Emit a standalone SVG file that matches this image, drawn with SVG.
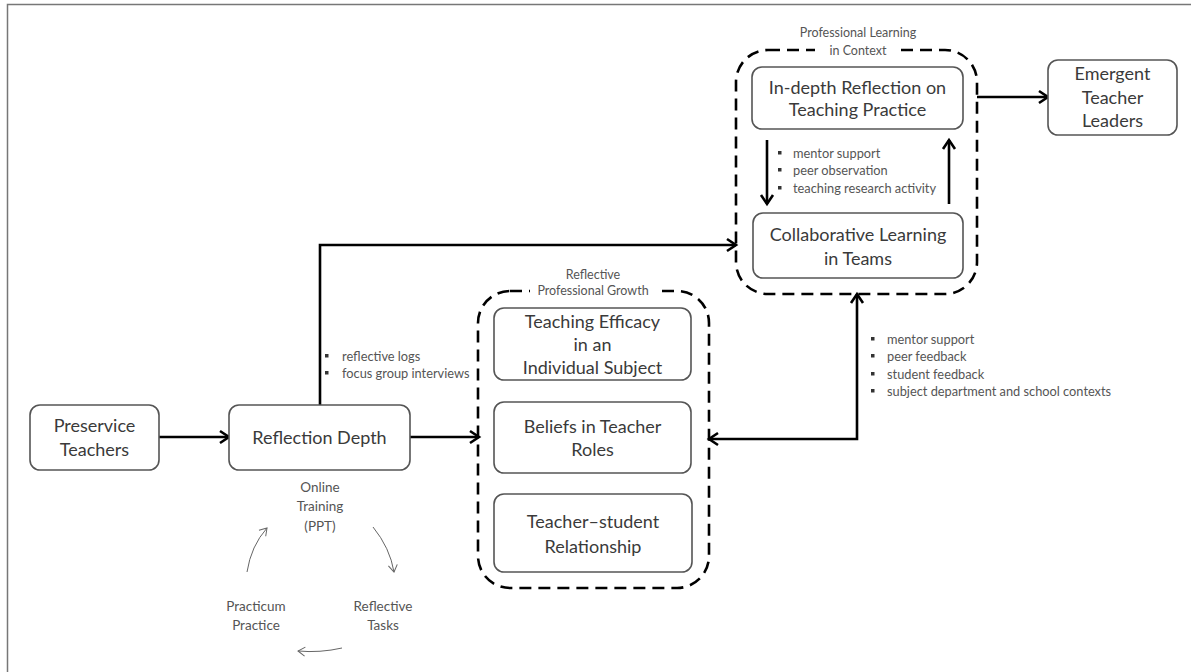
<svg xmlns="http://www.w3.org/2000/svg" width="1191" height="672" viewBox="0 0 1191 672">
<defs>
<marker id="ah" markerUnits="userSpaceOnUse" markerWidth="16" markerHeight="16" viewBox="0 0 16 16" refX="13" refY="8" orient="auto-start-reverse">
<path d="M4,2 L13,8 L4,14" fill="none" stroke="#000" stroke-width="2.6"/>
</marker>
<marker id="ahs" markerUnits="userSpaceOnUse" markerWidth="12" markerHeight="12" viewBox="0 0 12 12" refX="10" refY="6" orient="auto">
<path d="M3,1.5 L10,6 L3,10.5" fill="none" stroke="#666" stroke-width="1"/>
</marker>
<style>
.box{fill:#fff;stroke:#555;stroke-width:1.6}
.grp{fill:none;stroke:#000;stroke-width:2.6;stroke-dasharray:12 7}
.t{font-family:Lato,"Liberation Sans",sans-serif;font-size:18px;fill:#3a3a3a;text-anchor:middle}
.s{font-family:Lato,"Liberation Sans",sans-serif;font-size:12.8px;fill:#555}
.g{font-family:Lato,"Liberation Sans",sans-serif;font-size:12.5px;fill:#555;text-anchor:middle}
.c{font-family:Lato,"Liberation Sans",sans-serif;font-size:13.5px;fill:#555;text-anchor:middle}
.arr{fill:none;stroke:#000;stroke-width:2.6}
.thin{fill:none;stroke:#666;stroke-width:1}
</style>
</defs>
<rect width="1191" height="672" fill="#fff"/>
<g id="frame" fill="none" stroke="#777" stroke-width="1.5">
<path d="M7.5,672 V4.5 H1191"/>
</g>

<g id="group-reflective">
<rect class="grp" x="478" y="291" width="231" height="297" rx="32"/>
<rect x="530" y="283" width="126" height="15" fill="#fff"/>
<text class="g" x="593" y="279">Reflective</text>
<text class="g" x="593" y="295">Professional Growth</text>
</g>

<g id="group-context">
<rect class="grp" x="736" y="50" width="241" height="244" rx="32"/>
<rect x="815" y="42" width="86" height="16" fill="#fff"/>
<text class="g" x="858" y="37">Professional Learning</text>
<text class="g" x="858" y="55">in Context</text>
</g>

<g id="connectors">
<line class="arr" x1="159" y1="437" x2="229" y2="437" marker-end="url(#ah)"/>
<line class="arr" x1="410" y1="437" x2="479" y2="437" marker-end="url(#ah)"/>
<path class="arr" d="M320,405 V245 H736" marker-end="url(#ah)"/>
<line class="arr" x1="767" y1="140" x2="767" y2="204" marker-end="url(#ah)"/>
<line class="arr" x1="949" y1="204" x2="949" y2="140" marker-end="url(#ah)"/>
<line class="arr" x1="977" y1="97" x2="1048" y2="97" marker-end="url(#ah)"/>
<path class="arr" d="M709,439 H857 V294" marker-start="url(#ah)" marker-end="url(#ah)"/>
<path class="thin" d="M373,527 Q390,548 394,572" marker-end="url(#ahs)"/>
<path class="thin" d="M342,648 Q320,653 298,651" marker-end="url(#ahs)"/>
<path class="thin" d="M247,572 Q251,546 267,528" marker-end="url(#ahs)"/>
</g>

<g id="preservice">
<rect class="box" x="30" y="405" width="129" height="65" rx="10"/>
<text class="t" x="94.5" y="432">Preservice</text>
<text class="t" x="94.5" y="456">Teachers</text>
</g>

<g id="reflection-depth">
<rect class="box" x="229" y="405" width="181" height="65" rx="10"/>
<text class="t" x="319.5" y="444">Reflection Depth</text>
</g>

<g id="teaching-efficacy">
<rect class="box" x="494" y="308" width="197" height="72" rx="10"/>
<text class="t" x="592.5" y="328">Teaching Efficacy</text>
<text class="t" x="592.5" y="351">in an</text>
<text class="t" x="592.5" y="374">Individual Subject</text>
</g>

<g id="beliefs">
<rect class="box" x="494" y="402" width="197" height="71" rx="10"/>
<text class="t" x="592.5" y="433">Beliefs in Teacher</text>
<text class="t" x="592.5" y="456">Roles</text>
</g>

<g id="teacher-student">
<rect class="box" x="494" y="494" width="198" height="78" rx="10"/>
<text class="t" x="593" y="528">Teacher–student</text>
<text class="t" x="593" y="553">Relationship</text>
</g>

<g id="in-depth">
<rect class="box" x="752" y="67" width="211" height="62" rx="10"/>
<text class="t" x="857.5" y="94">In-depth Reflection on</text>
<text class="t" x="857.5" y="116">Teaching Practice</text>
</g>

<g id="collaborative">
<rect class="box" x="753" y="213" width="210" height="65" rx="10"/>
<text class="t" x="858" y="241">Collaborative Learning</text>
<text class="t" x="858" y="265">in Teams</text>
</g>

<g id="emergent">
<rect class="box" x="1048" y="60" width="129" height="75" rx="10"/>
<text class="t" x="1112.5" y="80">Emergent</text>
<text class="t" x="1112.5" y="104">Teacher</text>
<text class="t" x="1112.5" y="127">Leaders</text>
</g>

<g id="cycle">
<text class="c" x="320" y="492">Online</text>
<text class="c" x="320" y="511">Training</text>
<text class="c" x="320" y="531">(PPT)</text>
<text class="c" x="256" y="611">Practicum</text>
<text class="c" x="256" y="630">Practice</text>
<text class="c" x="383" y="611">Reflective</text>
<text class="c" x="383" y="630">Tasks</text>
</g>

<g id="labels">
<g fill="#333">
<rect x="325" y="354" width="3.5" height="3.5"/>
<rect x="325" y="371" width="3.5" height="3.5"/>
<rect x="778" y="151" width="3.5" height="3.5"/>
<rect x="778" y="168" width="3.5" height="3.5"/>
<rect x="778" y="186" width="3.5" height="3.5"/>
<rect x="871" y="337" width="3.5" height="3.5"/>
<rect x="871" y="354" width="3.5" height="3.5"/>
<rect x="871" y="372" width="3.5" height="3.5"/>
<rect x="871" y="389" width="3.5" height="3.5"/>
</g>
<text class="s" x="342" y="361">reflective logs</text>
<text class="s" x="342" y="378">focus group interviews</text>
<text class="s" x="793" y="158">mentor support</text>
<text class="s" x="793" y="175">peer observation</text>
<text class="s" x="793" y="193">teaching research activity</text>
<text class="s" x="887" y="344">mentor support</text>
<text class="s" x="887" y="361">peer feedback</text>
<text class="s" x="887" y="379">student feedback</text>
<text class="s" x="887" y="396">subject department and school contexts</text>
</g>
</svg>
